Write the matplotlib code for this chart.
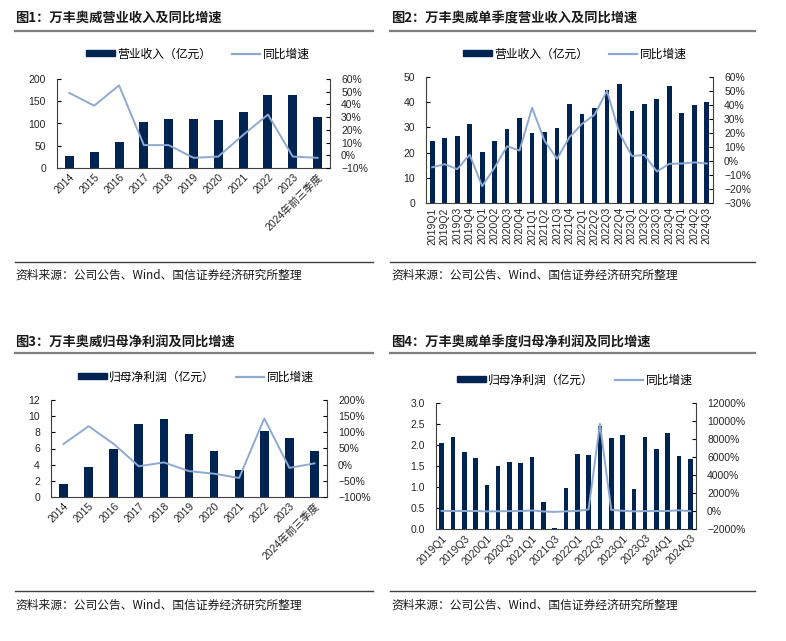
import matplotlib
matplotlib.use('Agg')
import matplotlib.pyplot as plt
from matplotlib.lines import Line2D
from matplotlib.patches import Patch
from matplotlib.ticker import FuncFormatter, MultipleLocator

plt.rcParams['font.family'] = ['Liberation Sans', 'Noto Sans CJK SC']
plt.rcParams['axes.unicode_minus'] = True

# 图1 数据
years = ['2014', '2015', '2016', '2017', '2018', '2019', '2020', '2021',
         '2022', '2023', '2024年前三季度']
revenue_year = [27, 37, 58, 103, 110, 109, 108, 125, 165, 163, 114]
revenue_year_yoy = [49, 39, 55, 8, 8, -2, -1, 16, 32, -1, -2]

# 图2 数据
quarters = ['2019Q1', '2019Q2', '2019Q3', '2019Q4', '2020Q1', '2020Q2',
            '2020Q3', '2020Q4', '2021Q1', '2021Q2', '2021Q3', '2021Q4',
            '2022Q1', '2022Q2', '2022Q3', '2022Q4', '2023Q1', '2023Q2',
            '2023Q3', '2023Q4', '2024Q1', '2024Q2', '2024Q3']
revenue_q = [24.7, 25.8, 26.7, 31.3, 20.2, 24.6, 29.5, 33.6, 27.9, 28.2,
             29.9, 39.4, 35.3, 37.6, 45.0, 47.4, 36.4, 39.2, 41.3, 46.6,
             35.7, 38.8, 40.2]
revenue_q_yoy = [-4.5, -2.3, -5.8, 4.5, -18, -4.7, 10.5, 7.5, 38, 14.5,
                 1.5, 17, 26.5, 33, 50, 20, 3.5, 4.3, -7.5, -2, -1.8, -1,
                 -1.8]

# 图3 数据
profit_year = [1.64, 3.66, 6.0, 9.08, 9.7, 7.77, 5.71, 3.37, 8.18, 7.36, 5.71]
profit_year_yoy = [64, 119, 64, -5, 7, -20, -28, -41, 143, -10, 4]

# 图4 数据
profit_q = [2.05, 2.19, 1.83, 1.68, 1.04, 1.49, 1.60, 1.57, 1.71, 0.64,
            0.02, 0.98, 1.79, 1.76, 2.45, 2.17, 2.25, 0.95, 2.19, 1.91,
            2.29, 1.73, 1.67]
profit_q_yoy = [10, 5, -5, 0, -49, -32, -13, -7, 64, -57, -99, -38, 5, 175,
                9700, 121, 26, -46, -11, -12, 2, 82, -24]

BAR = '#002452'
LINE = '#8eaad2'
TXT = '#262626'
W, H = 786, 641

fig = plt.figure(figsize=(W / 100, H / 100), dpi=100)


def px_rect(l, t, r, b):
    return [l / W, 1 - b / H, (r - l) / W, (b - t) / H]


def hline(x0, x1, y, lw, color):
    fig.add_artist(Line2D([x0 / W, x1 / W], [1 - y / H, 1 - y / H],
                          transform=fig.transFigure, lw=lw, color=color))


def pct(v, pos):
    return f'{v:.0f}%'.replace('-', '\u2212')


def panel(rect, labels, bars, line, ylim, ystep, y2lim, y2step, bw,
          rot, every, bar_name, title, tx, ty, leg_xy, yfmt='{:.0f}'):
    ax = fig.add_axes(px_rect(*rect))
    x = list(range(len(labels)))
    ax.bar(x, bars, width=bw, color=BAR, zorder=2)
    ax.set_xlim(-0.5, len(labels) - 0.5)
    ax.set_ylim(*ylim)
    ax.yaxis.set_major_locator(MultipleLocator(ystep))
    ax.yaxis.set_major_formatter(FuncFormatter(lambda v, p: yfmt.format(v)))
    ax.set_xticks(x[::every])
    if rot == 90:
        ax.set_xticklabels(labels[::every], rotation=90, ha='center', va='top')
    else:
        ax.set_xticklabels(labels[::every], rotation=rot, ha='right',
                           va='top', rotation_mode='anchor')
    ax.tick_params(axis='x', length=0, pad=3, labelsize=7.5, labelcolor=TXT)
    ax.tick_params(axis='y', direction='in', length=3, width=0.8,
                   labelsize=7.5, labelcolor=TXT, pad=8)
    ax.spines['top'].set_visible(False)
    ax.spines['right'].set_visible(False)
    for s in ('left', 'bottom'):
        ax.spines[s].set_color('#404040')
        ax.spines[s].set_linewidth(0.8)

    ax2 = ax.twinx()
    ax2.plot(x, line, color=LINE, lw=1.4, zorder=3)
    ax2.set_ylim(*y2lim)
    ax2.yaxis.set_major_locator(MultipleLocator(y2step))
    ax2.yaxis.set_major_formatter(FuncFormatter(pct))
    ax2.tick_params(axis='y', direction='in', length=3, width=0.8,
                    labelsize=7.5, labelcolor=TXT, pad=8)
    for s in ('top', 'left', 'bottom'):
        ax2.spines[s].set_visible(False)
    ax2.spines['right'].set_color('#404040')
    ax2.spines['right'].set_linewidth(0.8)

    handles = [Patch(color=BAR), Line2D([], [], color=LINE, lw=1.6)]
    fig.legend(handles, [bar_name, '同比增速'], loc='center',
               bbox_to_anchor=(leg_xy[0] / W, 1 - leg_xy[1] / H), ncol=2,
               frameon=False, fontsize=8.5, handlelength=2.4,
               handleheight=0.45, handletextpad=0.2, columnspacing=1.8,
               prop={'family': 'Noto Sans CJK SC', 'size': 8.5})

    fig.text(tx / W, 1 - ty / H, title, ha='left', va='center',
             fontsize=9.5, fontweight='bold', color='#1a1a1a',
             family='Noto Sans CJK SC')
    return ax


panel((57, 79, 330, 168), years, revenue_year, revenue_year_yoy,
      (0, 200), 50, (-10, 60), 10, 0.36, 45, 1, '营业收入（亿元）',
      '图1：万丰奥威营业收入及同比增速', 15, 18, (198, 54))
panel((426, 77, 713, 203), quarters, revenue_q, revenue_q_yoy,
      (0, 50), 10, (-30, 60), 10, 0.38, 90, 1, '营业收入（亿元）',
      '图2：万丰奥威单季度营业收入及同比增速', 391, 18, (575, 54))
panel((51, 400, 327, 497), years, profit_year, profit_year_yoy,
      (0, 12), 2, (-100, 200), 50, 0.35, 45, 1, '归母净利润（亿元）',
      '图3：万丰奥威归母净利润及同比增速', 15, 342, (196, 377))
panel((436, 403, 696, 529), quarters, profit_q, profit_q_yoy,
      (0, 3), 0.5, (-2000, 12000), 2000, 0.41, 45, 2, '归母净利润（亿元）',
      '图4：万丰奥威单季度归母净利润及同比增速', 391, 342, (575, 380),
      yfmt='{:.1f}')

# 标题下方和来源上方的分隔线
for y in (31, 353):
    hline(15, 373, y, 1.6, '#7f7f7f')
    hline(390, 755, y, 1.6, '#7f7f7f')
for y in (262, 591):
    hline(15, 373, y, 1.0, '#404040')
    hline(390, 755, y, 1.0, '#404040')

src = '资料来源：公司公告、Wind、国信证券经济研究所整理'
for (sx, sy) in ((15, 275), (391, 275), (15, 605), (391, 605)):
    fig.text(sx / W, 1 - sy / H, src, ha='left', va='center', fontsize=8.5,
             fontweight='medium', color='#1a1a1a', family='Noto Sans CJK SC')

fig.savefig('out.png', dpi=100, facecolor='white')
